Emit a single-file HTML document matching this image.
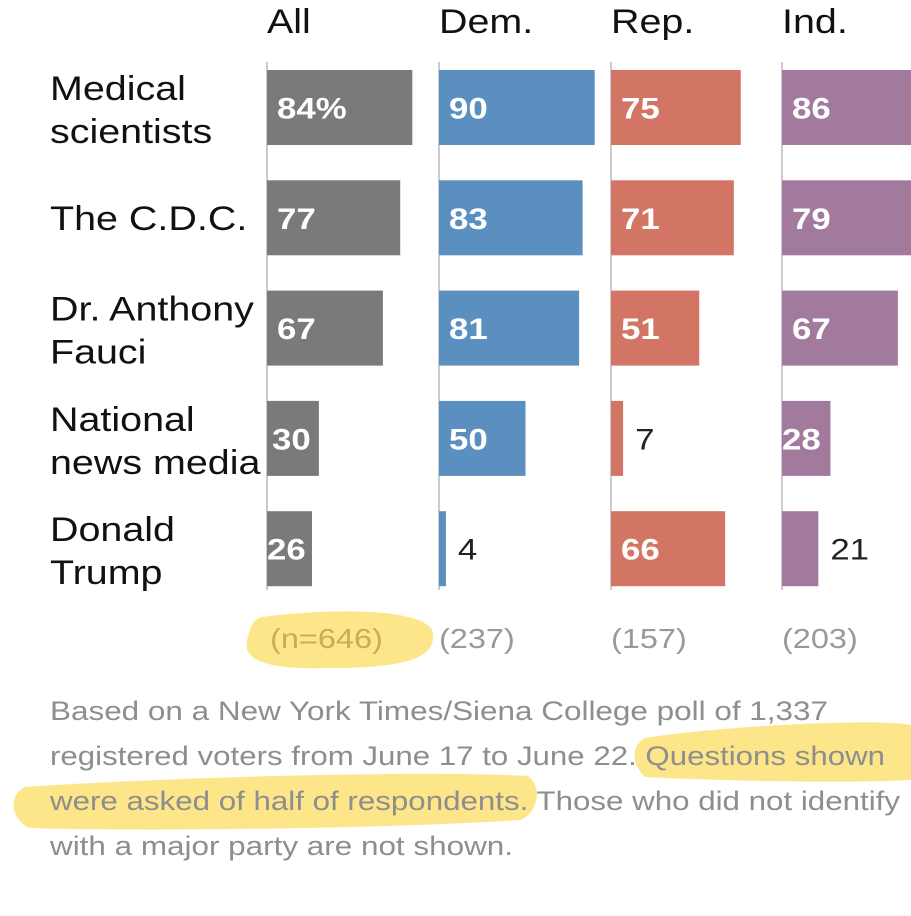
<!DOCTYPE html>
<html><head><meta charset="utf-8"><style>
body{margin:0;background:#fff;width:911px;height:911px;overflow:hidden;font-family:"Liberation Sans",sans-serif}
</style></head><body>
<svg id="svg" width="911" height="911" style="font-family:'Liberation Sans',sans-serif">
<g id="hl">
<path d="M262,617 C330,608 420,608 432,630 C440,660 400,668 330,668 C265,670 240,660 248,637 C250,625 255,619 262,617 Z" fill="#fde58a"/>
<path d="M645,738 C720,726 880,718 911,725 L911,780 C840,784 700,780 645,777 C630,762 632,746 645,738 Z" fill="#fde58a"/>
<path d="M25,787 C150,778 420,770 528,776 C545,790 535,815 520,820 C400,828 150,832 30,828 C10,820 8,795 25,787 Z" fill="#fde58a"/>
</g>
<g id="chart"></g>
<g font-size="27" fill="#8e8e8e">
<text class="fn" x="50" y="720" textLength="778" lengthAdjust="spacingAndGlyphs">Based on a New York Times/Siena College poll of 1,337</text>
<text class="fn" x="50" y="765" textLength="835" lengthAdjust="spacingAndGlyphs">registered voters from June 17 to June 22. Questions shown</text>
<text class="fn" x="50" y="810" textLength="850" lengthAdjust="spacingAndGlyphs">were asked of half of respondents. Those who did not identify</text>
<text class="fn" x="50" y="855" textLength="463" lengthAdjust="spacingAndGlyphs">with a major party are not shown.</text>
</g>
</svg>
<script>
const groups=["All","Dem.","Rep.","Ind."];
const categories=["Medical|scientists","The C.D.C.","Dr. Anthony|Fauci","National|news media","Donald|Trump"];
const allVals=[84,77,67,30,26];
const demVals=[90,83,81,50,4];
const repVals=[75,71,51,7,66];
const indVals=[86,79,67,28,21];
const sampleSizes=["(n=646)","(237)","(157)","(203)"];
const series=[allVals,demVals,repVals,indVals];
const colors=["#7a7a7a","#5b8fc0","#d27565","#a17a9e"];
const colX=[267,439,611,782];
const x=v=>v*1.73;
const y=i=>70+i*110.3;
const bh=75;
const g=document.getElementById('chart');
const NS="http://www.w3.org/2000/svg";
const stretch=[];
function mk(t,a,txt){const e=document.createElementNS(NS,t);for(const k in a)e.setAttribute(k,a[k]);if(txt!=null)e.textContent=txt;g.appendChild(e);if(t=='text')stretch.push(e);return e;}
groups.forEach((gn,j)=>{
  const h=mk('text',{x:colX[j],y:33,'font-size':34,fill:'#111'},gn);
  
  
  const l=mk('line',{x1:colX[j],x2:colX[j],y1:62,y2:590,stroke:'#bbb','stroke-width':1.5});
  
  
  const n=mk('text',{x:colX[j]+(j==0?3:0),y:648,'font-size':28,fill:j==0?'#c8ad55':'#999'},sampleSizes[j]);
  
  
  series[j].forEach((v,i)=>{
    const w=x(v);
    const r=mk('rect',{x:colX[j],y:y(i),width:w,height:bh,fill:colors[j]});
    
    
    const lbl=(j==0&&i==0)?v+'%':String(v);
    const inside=w>=40;
    const t=mk('text',{x:inside?colX[j]+10:colX[j]+w+12,y:y(i)+bh/2+11,'font-size':30,'font-weight':inside?'bold':'normal',fill:inside?'#fff':'#222'},lbl);
    if(inside&&w<60){t.setAttribute('x',colX[j]+(w<50?0:5));}
    
    
  });
});
categories.forEach((c,i)=>{
  const parts=c.split('|');
  const y0=parts.length==1?y(i)+bh/2+12:y(i)+30;
  parts.forEach((p,k)=>{
    const t=mk('text',{x:50,y:y0+k*43,'font-size':34,fill:'#111'},p);
    
    
  });
});
stretch.forEach(t=>{
  const L=t.getComputedTextLength();
  t.setAttribute('textLength',(L*1.16).toFixed(1));
  t.setAttribute('lengthAdjust','spacingAndGlyphs');
});
</script>
</body></html>
